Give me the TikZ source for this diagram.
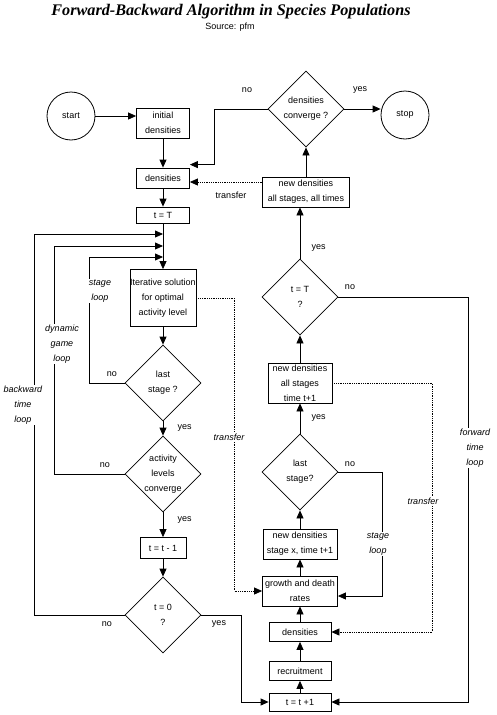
\documentclass[tikz,border=0pt]{standalone}
\usepackage{fontspec}
\setmainfont{Liberation Sans}
\newfontfamily\titlefont{Liberation Serif}
\usetikzlibrary{shapes.geometric,arrows.meta}

\newcommand\chartfont{\fontsize{9}{15}\selectfont}

\begin{document}
\begin{tikzpicture}[x=1pt,y=-1pt,line width=0.8pt,
  box/.style={draw,rectangle,inner sep=0pt,align=center,font=\chartfont},
  decision/.style={draw,diamond,aspect=1,inner sep=0pt,minimum width=76pt,minimum height=76pt,align=center,font=\chartfont},
  term/.style={draw,circle,minimum size=48pt,inner sep=0pt,font=\chartfont},
  flow/.style={-{Triangle[length=8pt,width=7pt]}},
  answer/.style={font=\chartfont},
  looplbl/.style={font=\chartfont\itshape,fill=white,inner sep=1pt,align=center}]
\path[use as bounding box,fill=white] (0,0) rectangle (497,715);
%\draw[help lines,step=20] (0,0) grid (497,715);

\node (title) at (231,12) {\titlefont\fontsize{16.2}{18}\selectfont\bfseries\itshape Forward-Backward Algorithm in Species Populations};
\node[font=\fontsize{9}{10}\selectfont] (source) at (230,27) {Source: pfm};

% backward half
\node[term] (start) at (71,116) {start};
\node[box,minimum width=53pt,minimum height=30pt] (init) at (163,123) {initial\\densities};
\node[box,minimum width=53pt,minimum height=20pt] (dens) at (163,178) {densities};
\node[box,minimum width=53pt,minimum height=16pt] (tT) at (163,215) {t = T};
\node[box,minimum width=66pt,minimum height=57pt] (iter) at (163,298) {Iterative solution\\for optimal\\activity level};
\node[decision] (last) at (163,383) {last\\stage ?};
\node[decision] (act) at (163,474) {activity\\levels\\converge};
\node[box,minimum width=46pt,minimum height=21pt] (tmin) at (163,548) {t = t - 1};
\node[decision] (tzero) at (163,615) {t = 0\\?};

% forward half
\node[decision] (conv) at (306,109) {densities\\converge ?};
\node[term] (stop) at (405,115) {stop};
\node[box,minimum width=87pt,minimum height=30pt] (allt) at (306,192) {new densities\\all stages, all times};
\node[decision] (tTq) at (300,297) {t = T\\?};
\node[box,minimum width=64pt,minimum height=40pt] (tone) at (300,383) {new densities\\all stages\\time t+1};
\node[decision] (lastx) at (300,472) {last\\stage?};
\node[box,minimum width=74pt,minimum height=30pt] (newx) at (300,544) {new densities\\stage x, time t+1};
\node[box,minimum width=75pt,minimum height=30pt] (rates) at (300,591) {growth and death\\rates};
\node[box,minimum width=62pt,minimum height=19pt] (dens2) at (300,632) {densities};
\node[box,minimum width=62pt,minimum height=19pt] (recr) at (300,671) {recruitment};
\node[box,minimum width=62pt,minimum height=18pt] (tplus) at (300,702) {t = t +1};

\draw[flow] (start.east) -- (start.east -| init.west);
\draw[flow] (init) -- (dens);
\draw[flow] (dens) -- (tT);
\draw[flow] (tT) -- (iter);
\draw[flow] (iter) -- (last);
\draw[flow] (last) -- node[answer,right=11pt]{yes} (act);
\draw[flow] (act) -- node[answer,right=11pt,pos=0.3]{yes} (tmin);
\draw[flow] (tmin) -- (tzero);

% the three loops back to the top
\coordinate (bwd) at (34,234);
\coordinate (dyn) at (54,246);
\coordinate (stg) at (89,257);
\draw[flow] (tzero.west) -| (bwd) -- (bwd -| tT.south);
\draw[flow] (act.west) -| (dyn) -- (dyn -| tT.south);
\draw[flow] (last.west) -| (stg) -- (stg -| tT.south);
\node[answer] (nolast) at (112,374) {no};
\node[answer] (noact) at (105,465) {no};
\node[answer] (nozero) at (107,624) {no};
\node[looplbl] (stgtxt) at (100,291) {stage\\loop};
\node[looplbl] (dyntxt) at (62,344) {dynamic\\game\\loop};
\node[looplbl] (bwdtxt) at (23,405) {backward\\time\\loop};

\draw[flow] (tzero.east) -- ++(40,0) |- (tplus.west);
\node[answer] (yeszero) at (219,624) {yes};
\draw[flow,densely dotted] (iter.east) -- ++(38,0) |- (rates.west);
\node[looplbl] (trleft) at (229,437) {transfer};

\draw[flow] (tplus) -- (recr);
\draw[flow] (recr) -- (dens2);
\draw[flow] (dens2) -- (rates);
\draw[flow] (rates) -- (newx);
\draw[flow] (newx) -- (lastx);
\draw[flow] (lastx) -- node[answer,right=8pt]{yes} (tone);
\draw[flow] (tone) -- (tTq);
\draw[flow] (tTq.north) -- node[answer,right=8pt,pos=0.2]{yes} (tTq.north |- allt.south);
\draw[flow] (allt) -- (conv);
\draw[flow] (conv.east) -- (conv.east -| stop.west);
\node[answer] (yesconv) at (360,90) {yes};
\draw[flow] (conv.west) -- ++(-53,0) |- ([yshift=3pt]dens.north east);
\node[answer] (noconv) at (247,90) {no};
\draw[flow,densely dotted] ([yshift=10pt]allt.west) -- ([yshift=10pt]allt.west -| dens.east);
\node[answer] (trtop) at (231,195) {transfer};

\draw[flow] (tTq.east) -- ++(130,0) |- (tplus.east);
\node[answer] (notq) at (350,287) {no};
\node[looplbl] (fwdtxt) at (475,448) {forward\\time\\loop};
\draw[flow] (lastx.east) -- ++(44,0) |- ([yshift=-5pt]rates.east);
\node[answer] (nolastx) at (350,464) {no};
\node[looplbl] (stgright) at (378,544) {stage\\loop};
\draw[flow,densely dotted] (tone.east) -- ++(100,0) |- (dens2.east);
\node[looplbl] (trright) at (423,501) {transfer};
\end{tikzpicture}
\end{document}
